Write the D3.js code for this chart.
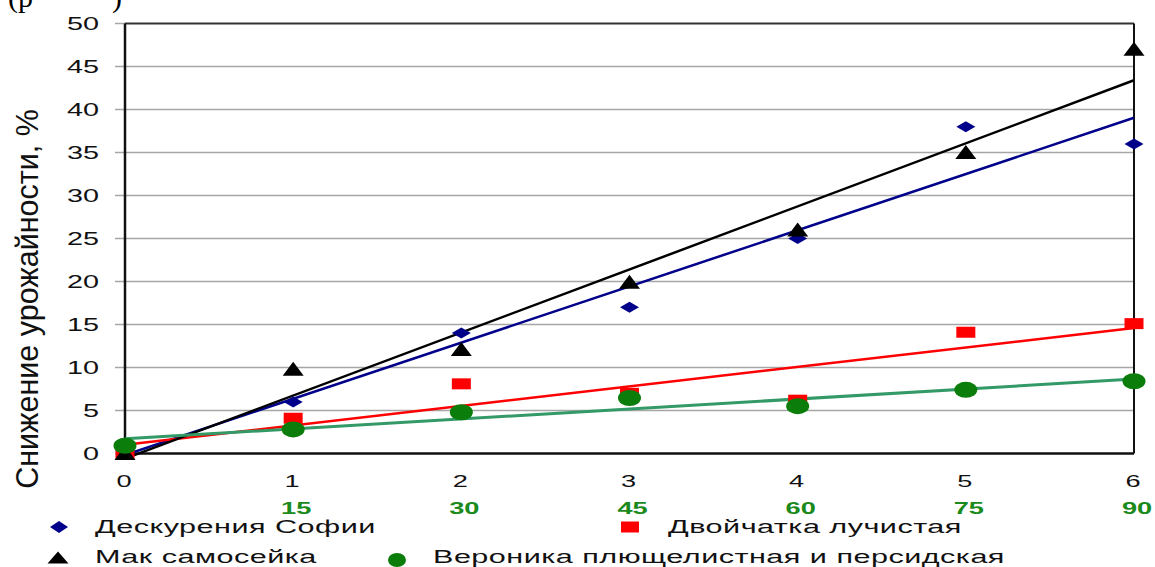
<!DOCTYPE html>
<html>
<head>
<meta charset="utf-8">
<script src="https://cdn.jsdelivr.net/npm/d3@7"></script>
<style>
  html, body { margin: 0; padding: 0; background: #fff; }
  svg { display: block; font-family: "Liberation Sans", Arial, sans-serif; }
</style>
</head>
<body>
<svg id="chart" width="1155" height="567"></svg>
<script>
// Data
const xValues = [0, 1, 2, 3, 4, 5, 6];
const xSubLabels = ["", "15", "30", "45", "60", "75", "90"];
const yTicks = [0, 5, 10, 15, 20, 25, 30, 35, 40, 45, 50];

const descurainia = [0, 6, 14, 17, 25, 38, 36];
const papaver = [0, 9.8, 12.1, 19.9, 26, 35, 47];
const chorispora = [0, 4.1, 8.1, 7.0, 6.2, 14.1, 15.1];
const veronica = [0.9, 2.8, 4.8, 6.45, 5.5, 7.4, 8.4];

const seriesNames = [
    "Дескурения Софии",
    "Двойчатка лучистая",
    "Мак самосейка",
    "Вероника плющелистная и персидская"
];

const svg = d3.select("#chart");
const SX = 1.6; // horizontal text stretch seen in the picture

const x = d3.scaleLinear().domain([0, 6]).range([125, 1134]);
const y = d3.scaleLinear().domain([0, 50]).range([453.5, 23.5]);

// stray caption fragment at the very top (cut off in the source too)
svg.append("text").attr("x", 8).attr("y", 7)
    .style("font-family", "'Liberation Serif', serif").style("font-size", "30px")
    .text("(р");
svg.append("text").attr("x", 112).attr("y", 7)
    .style("font-family", "'Liberation Serif', serif").style("font-size", "30px")
    .text(")");

// gridlines + left ticks
svg.append("g").selectAll("line").data(yTicks.filter(d => d > 0 && d < 50))
    .enter().append("line")
    .attr("x1", 115).attr("x2", x(6))
    .attr("y1", d => y(d)).attr("y2", d => y(d))
    .style("stroke", "#a6a6a6").style("stroke-width", 1.5);

svg.append("g").selectAll("line").data([0, 50])
    .enter().append("line")
    .attr("x1", 115).attr("x2", x(0))
    .attr("y1", d => y(d)).attr("y2", d => y(d))
    .style("stroke", "#a6a6a6").style("stroke-width", 1.5);

// frame
svg.append("line").attr("x1", x(0)).attr("x2", x(6)).attr("y1", y(50)).attr("y2", y(50))
    .style("stroke", "#333").style("stroke-width", 2);
svg.append("line").attr("x1", x(6)).attr("x2", x(6)).attr("y1", y(50)).attr("y2", y(0))
    .style("stroke", "#111").style("stroke-width", 2);
svg.append("line").attr("x1", x(0)).attr("x2", x(0)).attr("y1", y(50)).attr("y2", y(0))
    .style("stroke", "#111").style("stroke-width", 2.5);
svg.append("line").attr("x1", 118).attr("x2", x(6)).attr("y1", y(0)).attr("y2", y(0))
    .style("stroke", "#111").style("stroke-width", 2.5);

// y tick labels
svg.append("g").selectAll("text").data(yTicks)
    .enter().append("text")
    .attr("transform", d => `translate(99,${y(d) + 6.5}) scale(${SX},1)`)
    .attr("text-anchor", "end")
    .style("font-size", "18px").style("fill", "#111")
    .text(d => d);

// x tick labels
svg.append("g").selectAll("text").data(xValues)
    .enter().append("text")
    .attr("transform", d => `translate(${x(d) - 1},${487}) scale(${SX},1)`)
    .attr("text-anchor", "middle")
    .style("font-size", "17px").style("fill", "#111")
    .text(d => d);

// second row (green, bold)
svg.append("g").selectAll("text").data(xValues.filter(d => xSubLabels[d]))
    .enter().append("text")
    .attr("transform", d => `translate(${x(d) + 3},${514}) scale(1.7,1)`)
    .attr("text-anchor", "middle")
    .style("font-size", "16px").style("font-weight", "bold").style("fill", "#1a8a1a")
    .text(d => xSubLabels[d]);

// y axis title
svg.append("text")
    .attr("transform", "translate(38,299) rotate(-90)")
    .attr("text-anchor", "middle")
    .style("font-size", "30.5px").style("fill", "#111")
    .text("Снижение урожайности, %");

// linear trend (least squares) from each series
function trend(vals) {
    const mx = d3.mean(xValues), my = d3.mean(vals);
    const sxy = d3.sum(xValues, (xv, i) => (xv - mx) * (vals[i] - my));
    const sxx = d3.sum(xValues, xv => (xv - mx) * (xv - mx));
    const b = sxy / sxx;
    const a = my - b * mx;
    return [[0, a], [6, a + b * 6]];
}

const line = d3.line().x(d => x(d[0])).y(d => y(d[1]));
const trends = [
    { vals: descurainia, color: "#00008b", w: 2.5 },
    { vals: chorispora, color: "#ff0000", w: 2.5 },
    { vals: papaver, color: "#000000", w: 2.5 },
    { vals: veronica, color: "#339966", w: 3 }
];
svg.append("g").selectAll("path").data(trends)
    .enter().append("path")
    .attr("d", d => line(trend(d.vals)))
    .style("fill", "none")
    .style("stroke", d => d.color)
    .style("stroke-width", d => d.w);

// marker shapes (slightly wide, as in the picture)
const shapes = {
    diamond: "M-9.5,0L0,-5.5L9.5,0L0,5.5Z",
    square: "M-9.5,-5.5H9.5V5.5H-9.5Z",
    triangle: "M0,-7.5L10.5,6.5H-10.5Z",
    circle: "M-11.5,0A11.5,8 0 1,0 11.5,0A11.5,8 0 1,0 -11.5,0Z"
};

const markerSeries = [
    { vals: descurainia, shape: "diamond", color: "#00008b" },
    { vals: chorispora, shape: "square", color: "#ff0000" },
    { vals: papaver, shape: "triangle", color: "#000000" },
    { vals: veronica, shape: "circle", color: "#0a7d0a" }
];

markerSeries.forEach(s => {
    svg.append("g").selectAll("path").data(s.vals)
        .enter().append("path")
        .attr("transform", (d, i) => `translate(${x(xValues[i])},${y(d)})`)
        .attr("d", shapes[s.shape])
        .style("fill", s.color);
});

// legend
const legendItems = [
    { name: seriesNames[0], shape: "diamond", color: "#00008b", mx: 59, my: 527, tx: 95, ty: 533 },
    { name: seriesNames[1], shape: "square", color: "#ff0000", mx: 630, my: 527, tx: 668, ty: 533 },
    { name: seriesNames[2], shape: "triangle", color: "#000000", mx: 58, my: 558, tx: 95, ty: 563 },
    { name: seriesNames[3], shape: "circle", color: "#0a7d0a", mx: 397, my: 560, tx: 433, ty: 563 }
];
const legendShapes = {
    diamond: "M-9,0L0,-6L9,0L0,6Z",
    square: "M-9,-5.5H9V5.5H-9Z",
    triangle: "M0,-6.5L10.5,5.5H-10.5Z",
    circle: "M-9,0A9,7 0 1,0 9,0A9,7 0 1,0 -9,0Z"
};
const lg = svg.append("g").selectAll("g").data(legendItems).enter().append("g");
lg.append("path")
    .attr("transform", d => `translate(${d.mx},${d.my})`)
    .attr("d", d => legendShapes[d.shape])
    .style("fill", d => d.color);
lg.append("text")
    .attr("transform", d => `translate(${d.tx},${d.ty}) scale(1.61,1)`)
    .style("font-size", "19px").style("fill", "#111")
    .style("letter-spacing", "0.3px")
    .text(d => d.name);
</script>
</body>
</html>
